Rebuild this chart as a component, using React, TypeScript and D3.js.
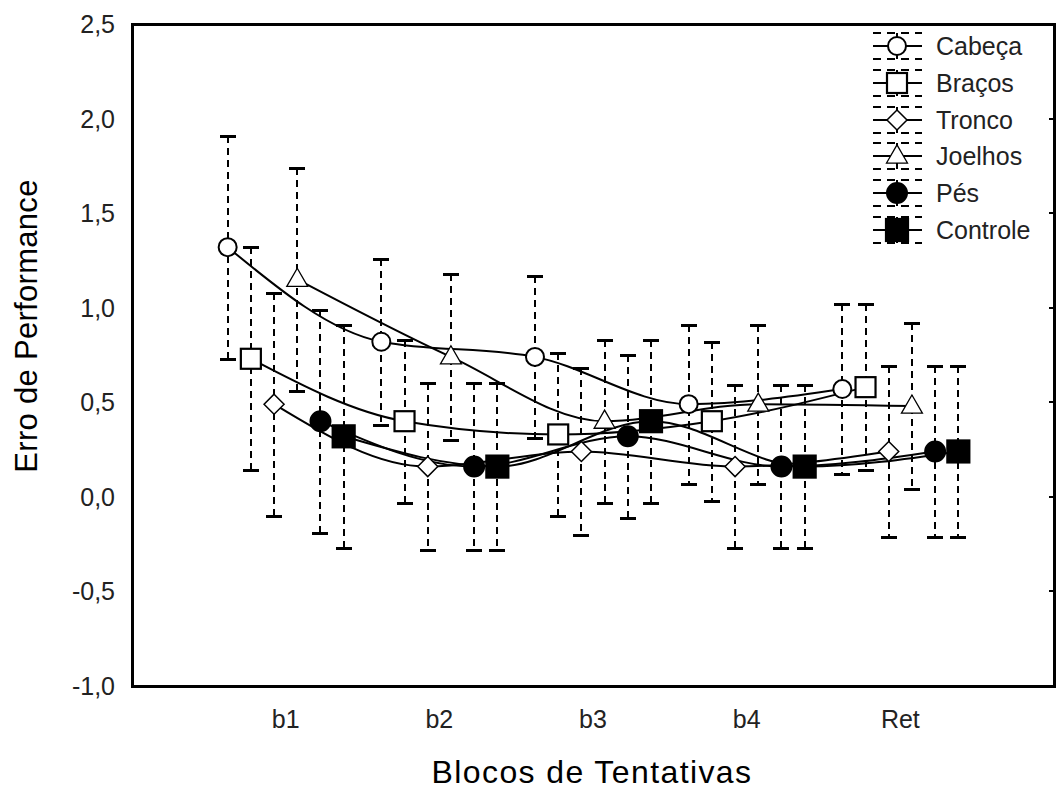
import * as d3 from "d3";

const categories = ["b1", "b2", "b3", "b4", "Ret"];
const seriesNames = ["Cabeça", "Braços", "Tronco", "Joelhos", "Pés", "Controle"];

// means and half-widths of the error bars
const cabecaMean = [1.32, 0.82, 0.74, 0.49, 0.57];
const cabecaErr = [0.59, 0.44, 0.43, 0.42, 0.45];
const bracosMean = [0.73, 0.4, 0.33, 0.4, 0.58];
const bracosErr = [0.59, 0.43, 0.43, 0.42, 0.44];
const troncoMean = [0.49, 0.16, 0.24, 0.16, 0.24];
const troncoErr = [0.59, 0.44, 0.44, 0.43, 0.45];
const joelhosMean = [1.15, 0.74, 0.4, 0.49, 0.48];
const joelhosErr = [0.59, 0.44, 0.43, 0.42, 0.44];
const pesMean = [0.4, 0.16, 0.32, 0.16, 0.24];
const pesErr = [0.59, 0.44, 0.43, 0.43, 0.45];
const controleMean = [0.32, 0.16, 0.4, 0.16, 0.24];
const controleErr = [0.59, 0.44, 0.43, 0.43, 0.45];

const yTicks = [-1, -0.5, 0, 0.5, 1, 1.5, 2, 2.5];

const means = [cabecaMean, bracosMean, troncoMean, joelhosMean, pesMean, controleMean];
const errs = [cabecaErr, bracosErr, troncoErr, joelhosErr, pesErr, controleErr];
const markerTypes = ["circle", "square", "diamond", "triangle", "circle", "square"];
const filled = [false, false, false, false, true, true];

const W = 1057;
const H = 789;
const left = 132;
const right = 1054;
const top = 24;
const bottom = 686;
const font = "'Liberation Sans', Arial, sans-serif";

const x = d3.scaleLinear().domain([0, categories.length + 1]).range([left, right]);
const y = d3.scaleLinear().domain([-1, 2.5]).range([bottom, top]);
const offset = 0.151;
const xPos = (s: number, i: number) => x(i + 1 + (s - 2.5) * offset);

const fmt = (v: number) => d3.format(".1f")(v).replace(".", ",").replace("−", "-");

const Marker = ({ type, fill, cx, cy }: { type: string; fill: boolean; cx: number; cy: number }) => {
  const f = fill ? "#000" : "#fff";
  if (type === "circle") return <circle cx={cx} cy={cy} r={fill ? 10 : 9} fill={f} stroke="#000" strokeWidth={2} />;
  if (type === "square") {
    const s = fill ? 22 : 20;
    return <rect x={cx - s / 2} y={cy - s / 2} width={s} height={s} fill={f} stroke="#000" strokeWidth={2.2} />;
  }
  if (type === "diamond") {
    const r = 10;
    return (
      <path d={`M${cx},${cy - r}L${cx + r},${cy}L${cx},${cy + r}L${cx - r},${cy}Z`} fill={f} stroke="#000" strokeWidth={1.5} />
    );
  }
  const tri = d3.symbol().type(d3.symbolTriangle).size(190)();
  return <path d={tri || ""} transform={`translate(${cx},${cy + 1})`} fill={f} stroke="#000" strokeWidth={1.3} />;
};

const App = () => {
  const gen = d3
    .line<[number, number]>()
    .x((d) => d[0])
    .y((d) => d[1])
    .curve(d3.curveMonotoneX);

  return (
    <svg width={W} height={H} style={{ position: "absolute", left: 0, top: 0, background: "#fff" }}>
      <rect width={W} height={H} fill="#fff" />

      {/* error bars */}
      {means.map((ser, s) =>
        ser.map((m, i) => {
          const cx = Math.round(xPos(s, i));
          const y1 = Math.round(y(m + errs[s][i]));
          const y2 = Math.round(y(m - errs[s][i]));
          return (
            <g key={`e${s}-${i}`} stroke="#000" shapeRendering="crispEdges">
              <line x1={cx} x2={cx} y1={y1} y2={y2} strokeWidth={2} strokeDasharray="7,5" />
              <line x1={cx - 8} x2={cx + 8} y1={y1} y2={y1} strokeWidth={3} />
              <line x1={cx - 8} x2={cx + 8} y1={y2} y2={y2} strokeWidth={3} />
            </g>
          );
        })
      )}

      {/* lines */}
      {means.map((ser, s) => {
        const pts = ser.map((m, i) => [xPos(s, i), y(m)] as [number, number]);
        return <path key={`l${s}`} d={gen(pts) || ""} fill="none" stroke="#000" strokeWidth={2} />;
      })}

      {/* markers */}
      {means.map((ser, s) =>
        ser.map((m, i) => (
          <Marker key={`m${s}-${i}`} type={markerTypes[s]} fill={filled[s]} cx={xPos(s, i)} cy={y(m)} />
        ))
      )}

      {/* frame */}
      <rect
        x={left}
        y={top}
        width={right - left}
        height={bottom - top}
        fill="none"
        stroke="#000"
        strokeWidth={3}
        shapeRendering="crispEdges"
      />
      {yTicks.map((t) => (
        <line
          key={`rt${t}`}
          x1={right - 5}
          x2={right}
          y1={Math.round(y(t))}
          y2={Math.round(y(t))}
          stroke="#000"
          strokeWidth={2}
          shapeRendering="crispEdges"
        />
      ))}

      {/* y axis labels */}
      {yTicks.map((t) => (
        <text
          key={`yt${t}`}
          x={115}
          y={y(t)}
          textAnchor="end"
          dominantBaseline="central"
          fontFamily={font}
          fontSize={25}
          fill="#222"
        >
          {fmt(t)}
        </text>
      ))}

      {/* x axis labels */}
      {categories.map((c, i) => (
        <text key={c} x={x(i + 1)} y={728} textAnchor="middle" fontFamily={font} fontSize={25} fill="#222">
          {c}
        </text>
      ))}

      <text x={592} y={783} textAnchor="middle" fontFamily={font} fontSize={32} letterSpacing={1.4} fill="#000">
        Blocos de Tentativas
      </text>
      <text
        transform={`translate(37,326) rotate(-90)`}
        textAnchor="middle"
        fontFamily={font}
        fontSize={31}
        letterSpacing={0.3}
        fill="#000"
      >
        Erro de Performance
      </text>

      {/* legend */}
      {seriesNames.map((name, s) => {
        const ly = Math.round(46 + s * 36.8);
        const lx = 897;
        return (
          <g key={name}>
            <g stroke="#000" shapeRendering="crispEdges">
              <line x1={873} x2={922} y1={ly - 13} y2={ly - 13} strokeWidth={2} strokeDasharray="8,6" />
              <line x1={873} x2={922} y1={ly + 13} y2={ly + 13} strokeWidth={2} strokeDasharray="8,6" />
              <line x1={lx} x2={lx} y1={ly - 13} y2={ly + 13} strokeWidth={2} />
              <line x1={873} x2={922} y1={ly} y2={ly} strokeWidth={2} />
            </g>
            <Marker type={markerTypes[s]} fill={filled[s]} cx={lx} cy={ly} />
            <text x={936} y={ly} dominantBaseline="central" fontFamily={font} fontSize={25} fill="#222">
              {name}
            </text>
          </g>
        );
      })}
    </svg>
  );
};

export default App;
